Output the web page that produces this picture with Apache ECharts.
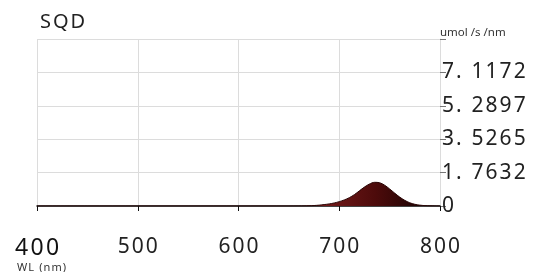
<!DOCTYPE html>
<html>
<head>
<meta charset="utf-8">
<script src="https://cdn.jsdelivr.net/npm/echarts@6/dist/echarts.min.js"></script>
<style>
html, body { margin: 0; padding: 0; background: #fff; }
#chart { width: 540px; height: 272px; }
</style>
</head>
<body>
<div id="chart"></div>
<script>
// wavelength (nm) and spectral photon flux
const wl = [400, 450, 500, 550, 600, 650, 660, 665, 670, 675, 680, 685, 690, 695, 700, 705, 710, 715, 720, 725,
  730, 735, 740, 745, 750, 755, 760, 765, 770, 775, 780, 785, 790, 795, 800]
const sqd = [0, 0, 0, 0, 0, 0, 0.003, 0.006, 0.012, 0.025, 0.045, 0.075, 0.11, 0.16, 0.23, 0.32, 0.44, 0.6, 0.8, 1.0,
  1.16, 1.25, 1.23, 1.1, 0.9, 0.68, 0.47, 0.3, 0.17, 0.09, 0.045, 0.02, 0.008, 0.003, 0]
const yTicks = ['0', '1. 7632', '3. 5265', '5. 2897', '7. 1172', '']
const yStep = 1.7632

// the picture's lettering is set wide, so put hair spaces between letters
const spaced = s => s.split('').join('\u200a')

const chart = echarts.init(document.getElementById('chart'))
chart.setOption({
  animation: false,
  textStyle: { fontFamily: 'Noto Sans' },
  title: {
    text: spaced('SQD'), left: 35, top: 7,
    textStyle: { fontSize: 20, fontWeight: 'normal', color: '#222', fontFamily: 'Noto Sans' }
  },
  grid: { left: 37, right: 100, top: 39, bottom: 66 },
  graphic: [
    { type: 'text', left: 440, top: 27, style: { text: 'umol /s /nm', fontSize: 11.5, fill: '#333', fontFamily: 'Noto Sans' } },
    { type: 'text', left: 17, top: 262, style: { text: spaced('WL (nm)'), fontSize: 11, fill: '#333', fontFamily: 'Noto Sans' } }
  ],
  xAxis: {
    type: 'value', min: 400, max: 800, interval: 100,
    axisLine: { lineStyle: { color: '#111', width: 1.5 } },
    axisTick: { show: true, length: 5, lineStyle: { color: '#111' } },
    axisLabel: {
      margin: 31, fontSize: 21, color: '#222',
      formatter: v => v === 400 ? '{big|' + spaced(String(v)) + '}' : spaced(String(v)),
      rich: { big: { fontSize: 23, color: '#111' } }
    },
    splitLine: { show: true, lineStyle: { color: '#dcdcdc' } }
  },
  yAxis: {
    type: 'value', position: 'right', min: 0, max: yStep * 5, interval: yStep,
    axisLine: { show: true, lineStyle: { color: '#dcdcdc' } },
    axisTick: { show: true, length: 6, lineStyle: { color: '#777' } },
    axisLabel: {
      margin: 2, fontSize: 21, color: '#222',
      formatter: (v, i) => spaced(yTicks[i])
    },
    splitLine: { show: true, lineStyle: { color: '#dcdcdc' } }
  },
  series: [{
    type: 'line',
    data: wl.map((w, i) => [w, sqd[i]]),
    smooth: 0.3,
    symbol: 'none',
    lineStyle: { color: '#2a0505', width: 1 },
    areaStyle: {
      opacity: 1,
      color: new echarts.graphic.LinearGradient(0, 0, 1, 0, [
        { offset: 0, color: '#8a2424' },
        { offset: 0.68, color: '#7d1d1d' },
        { offset: 0.84, color: '#4d0b0b' },
        { offset: 0.97, color: '#160202' },
        { offset: 1, color: '#160202' }
      ])
    }
  }]
})
</script>
</body>
</html>
